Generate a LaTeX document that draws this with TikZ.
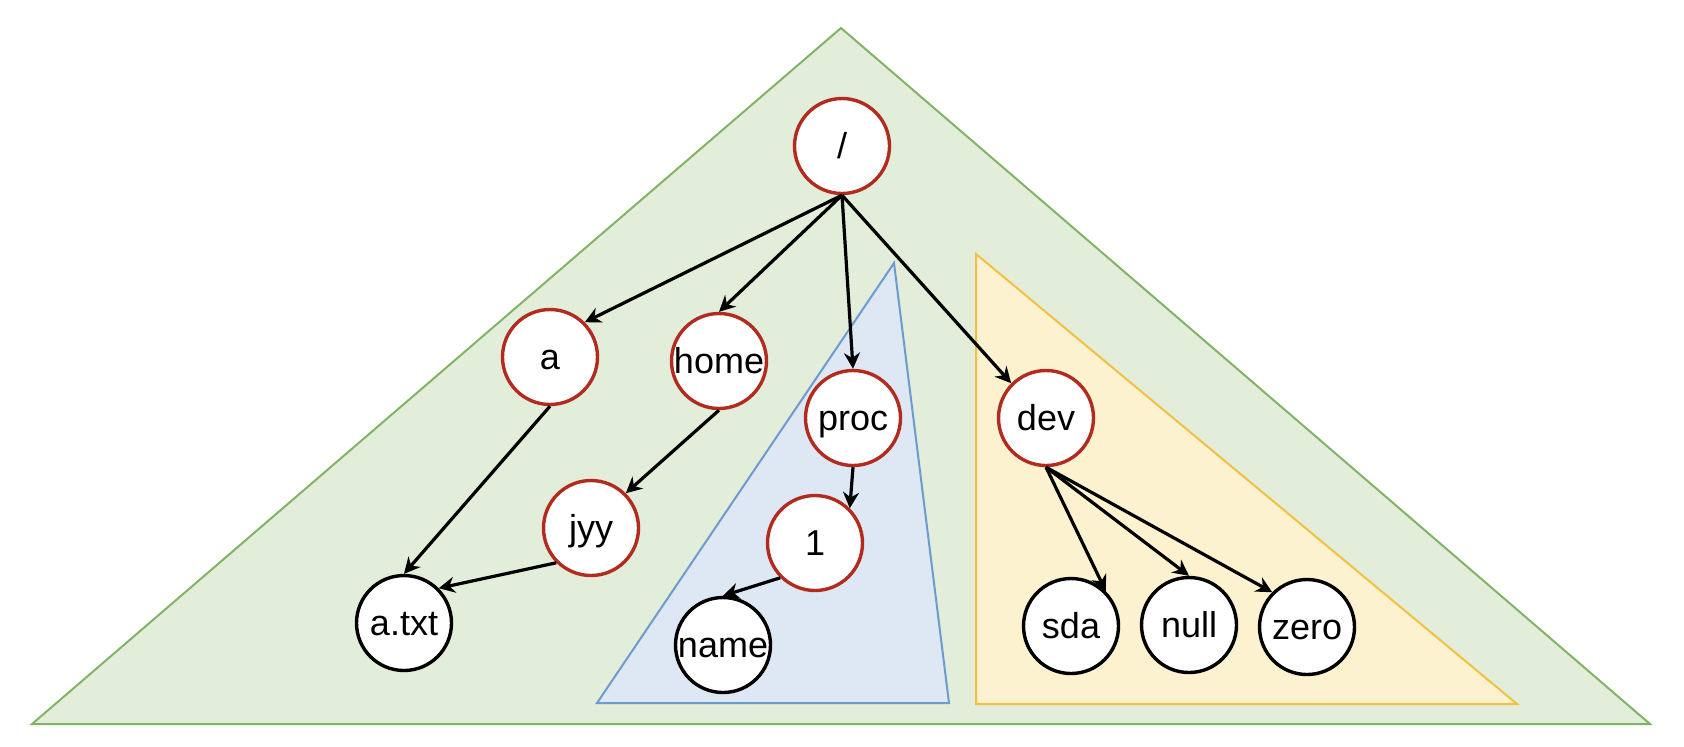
\documentclass[tikz,border=0pt]{standalone}
\usepackage{fontspec}
\setmainfont{Liberation Sans}
\usetikzlibrary{arrows.meta}
\definecolor{gfill}{HTML}{E2EDDA}
\definecolor{gline}{HTML}{82B366}
\definecolor{bfill}{HTML}{DEE8F4}
\definecolor{bline}{HTML}{6C9BD0}
\definecolor{yfill}{HTML}{FCF2D0}
\definecolor{yline}{HTML}{F4C042}
\definecolor{dirred}{HTML}{B22B1F}
\tikzset{
  fsnode/.style={circle, draw=black, fill=white, line width=1.7pt, minimum size=47.5pt, inner sep=0pt, text height=12.5pt, text depth=0pt, font=\fontsize{18}{20}\selectfont},
  dirnode/.style={fsnode, draw=dirred},
  link/.style={line width=1.6pt, -{Stealth[length=8pt,width=8pt]}},
  region/.style={line width=1pt, line join=miter}
}
\begin{document}
\begin{tikzpicture}[x=0.5pt, y=-0.5pt]
\useasboundingbox (0,0) rectangle (1684,746);
\fill[white] (0,0) rectangle (1684,746);
% regions
\draw[region, fill=gfill, draw=gline] (841,28) -- (32,724) -- (1650,724) -- cycle;
\draw[region, fill=bfill, draw=bline] (894,263) -- (597,703) -- (949,703) -- cycle;
\draw[region, fill=yfill, draw=yline] (976,254) -- (976,704) -- (1517,704) -- cycle;
% nodes
\node[dirnode] (root) at (842,146) {\makebox[0pt]{/}};
\node[dirnode] (a) at (550,357) {\makebox[0pt]{a}};
\node[dirnode] (home) at (719,361) {\makebox[0pt]{home}};
\node[dirnode] (proc) at (853,418) {\makebox[0pt]{proc}};
\node[dirnode] (dev) at (1046,418) {\makebox[0pt]{dev}};
\node[dirnode] (jyy) at (591,528) {\makebox[0pt]{jyy}};
\node[dirnode] (one) at (815,543) {\makebox[0pt]{1}};
\node[fsnode] (atxt) at (404,623) {\makebox[0pt]{a.txt}};
\node[fsnode] (name) at (723,645) {\makebox[0pt]{name}};
\node[fsnode] (sda) at (1071,626) {\makebox[0pt]{sda}};
\node[fsnode] (null) at (1189,625) {\makebox[0pt]{null}};
\node[fsnode] (zero) at (1307,627) {\makebox[0pt]{zero}};
% edges
\draw[link] (root.south) -- (a.north east);
\draw[link] (root.south) -- (home.north);
\draw[link] (root.south) -- (proc.north);
\draw[link] (root.south) -- (dev.north west);
\draw[link] (a.south) -- (atxt.north);
\draw[link] (home.south) -- (jyy.north east);
\draw[link] (jyy.south west) -- (atxt.north east);
\draw[link] (proc.south) -- (one.north east);
\draw[link] (one.south west) -- (name.north);
\draw[link] (dev.south) -- (sda.north east);
\draw[link] (dev.south) -- (null.north);
\draw[link] (dev.south) -- (zero.north west);
\end{tikzpicture}
\end{document}
